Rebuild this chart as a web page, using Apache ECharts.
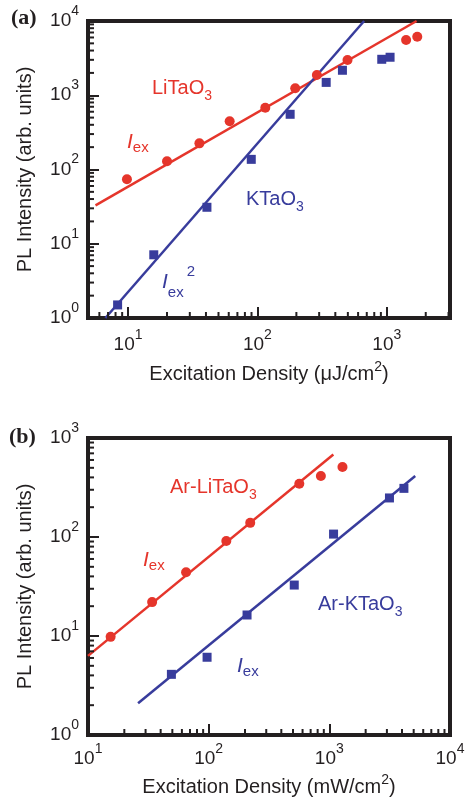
<!DOCTYPE html>
<html>
<head>
<meta charset="utf-8">
<script src="https://cdn.jsdelivr.net/npm/echarts@6/dist/echarts.min.js"></script>
<style>
  html, body { margin: 0; padding: 0; background: #fff; }
  #chart { width: 466px; height: 802px; }
</style>
</head>
<body>
<div id="chart"></div>
<script>
// ---- Panel (a): pulsed excitation (µJ/cm²) ----
const liTaO3A = [[9.8, 74], [20, 129], [35.6, 225], [61, 446], [115, 680], [196, 1240], [288, 1870], [497, 2990], [1410, 5550], [1720, 6150]];
const kTaO3A = [[8.3, 1.5], [15.8, 7.1], [40.7, 31], [89.6, 137], [179, 554], [340, 1490], [454, 2170], [914, 3050], [1060, 3250]];
const liTaO3AFit = [[5.6, 32.9], [1700, 10000]];   // slope 1
const kTaO3AFit = [[6.68, 1], [668, 10000]];        // slope 2

// ---- Panel (b): cw excitation (mW/cm²) ----
const arLiTaO3B = [[15.4, 9.8], [34, 22], [65, 44], [140, 91], [221, 139], [564, 345], [851, 413], [1285, 509]];
const arKTaO3B = [[49.1, 4.1], [97, 6.1], [208, 16.3], [512, 32.7], [1084, 107], [3150, 248], [4150, 310]];
const arLiTaO3BFit = [[10, 6.3], [1080, 680]];
const arKTaO3BFit = [[26, 2.09], [5150, 413]];

// ---- axis ranges ----
const xRangeA = [4.9, 3080];
const yRangeA = [1, 10000];
const xRangeB = [10, 10000];
const yRangeB = [1, 1000];

// ---- minor tick values (2..9 per decade) ----
const xMinorA = [6, 7, 8, 9, 20, 30, 40, 50, 60, 70, 80, 90, 200, 300, 400, 500, 600, 700, 800, 900, 2000, 3000];
const yMinorA = [2, 3, 4, 5, 6, 7, 8, 9, 20, 30, 40, 50, 60, 70, 80, 90, 200, 300, 400, 500, 600, 700, 800, 900, 2000, 3000, 4000, 5000, 6000, 7000, 8000, 9000];
const xMinorB = [20, 30, 40, 50, 60, 70, 80, 90, 200, 300, 400, 500, 600, 700, 800, 900, 2000, 3000, 4000, 5000, 6000, 7000, 8000, 9000];
const yMinorB = [2, 3, 4, 5, 6, 7, 8, 9, 20, 30, 40, 50, 60, 70, 80, 90, 200, 300, 400, 500, 600, 700, 800, 900];

const FONT = '"Liberation Sans", Arial, Helvetica, sans-serif';
const INK = '#231f20';
const RED = '#e5352b';
const BLUE = '#383c9c';

function powLabel(v) {
  const l = Math.log10(v);
  const e = Math.round(l);
  if (Math.abs(l - e) > 1e-6) return '';
  return '{b|10}{p|' + e + '}';
}

const tickRich = {
  b: { fontFamily: FONT, fontSize: 19, lineHeight: 34, color: INK },
  p: { fontFamily: FONT, fontSize: 14, lineHeight: 14, verticalAlign: 'top', color: INK }
};

function nameStyle() {
  return {
    fontFamily: FONT, fontSize: 20, lineHeight: 28, color: INK,
    rich: { p: { fontFamily: FONT, fontSize: 14, lineHeight: 12, verticalAlign: 'top', color: INK } }
  };
}

function logAxis(gridIndex, range, extra) {
  return Object.assign({
    type: 'log', logBase: 10, gridIndex: gridIndex, min: range[0], max: range[1],
    axisLine: { show: true, onZero: false, lineStyle: { color: INK, width: 4 } },
    axisTick: { show: true, inside: true, length: 11, interval: 0, lineStyle: { color: INK, width: 2 } },
    minorTick: { show: false },
    splitLine: { show: false },
    axisLabel: { show: true, interval: 0, formatter: powLabel, rich: tickRich, showMinLabel: true, showMaxLabel: true },
    nameLocation: 'middle',
    nameTextStyle: nameStyle()
  }, extra);
}

function minorTicks(dim, idx, values, fixed) {
  return {
    type: 'custom', xAxisIndex: idx, yAxisIndex: idx, silent: true, clip: false, z: 4,
    data: values.map(v => dim === 'x' ? [v, fixed] : [fixed, v]),
    renderItem: function (params, api) {
      const p = api.coord([api.value(0), api.value(1)]);
      const len = 6;
      const shape = dim === 'x'
        ? { x1: p[0], y1: p[1], x2: p[0], y2: p[1] - len }
        : { x1: p[0], y1: p[1], x2: p[0] + len, y2: p[1] };
      return { type: 'line', shape: shape, style: { stroke: INK, lineWidth: 2 } };
    }
  };
}

function fitLine(idx, data, color) {
  return {
    type: 'line', xAxisIndex: idx, yAxisIndex: idx, data: data, showSymbol: false, silent: true,
    lineStyle: { color: color, width: 2.5 }, z: 2
  };
}

function points(idx, data, color, symbol, size) {
  return {
    type: 'scatter', xAxisIndex: idx, yAxisIndex: idx, data: data, symbol: symbol, symbolSize: size,
    itemStyle: { color: color, opacity: 1 }, z: 3
  };
}

const subRich = (color) => ({
  m: { fontFamily: FONT, fontSize: 20, lineHeight: 30, color: color },
  s: { fontFamily: FONT, fontSize: 14, lineHeight: 14, verticalAlign: 'bottom', color: color },
  I: { fontFamily: FONT, fontSize: 21, fontStyle: 'italic', lineHeight: 26, color: color },
  e: { fontFamily: FONT, fontSize: 15, lineHeight: 15, verticalAlign: 'bottom', color: color }
});

function label(x, y, text, color) {
  return {
    type: 'text', x: x, y: y, silent: true, z: 10,
    style: { text: text, rich: subRich(color), align: 'left', verticalAlign: 'middle', fill: color }
  };
}

const chart = echarts.init(document.getElementById('chart'), null, { renderer: 'canvas' });

chart.setOption({
  backgroundColor: '#fff',
  animation: false,
  grid: [
    { left: 88, top: 21, width: 362, height: 297, show: true, borderColor: INK, borderWidth: 4, outerBoundsMode: 'none', containLabel: false },
    { left: 88, top: 438, width: 362, height: 297, show: true, borderColor: INK, borderWidth: 4, outerBoundsMode: 'none', containLabel: false }
  ],
  xAxis: [
    logAxis(0, xRangeA, { name: 'Excitation Density (μJ/cm{p|2})', nameGap: 42, axisLabel: { show: true, interval: 0, margin: 10, formatter: powLabel, rich: tickRich } }),
    logAxis(1, xRangeB, { name: 'Excitation Density (mW/cm{p|2})', nameGap: 38, axisLabel: { show: true, interval: 0, margin: 7, formatter: powLabel, rich: tickRich } })
  ],
  yAxis: [
    logAxis(0, yRangeA, { name: 'PL Intensity (arb. units)', nameGap: 47, axisLabel: { show: true, interval: 0, margin: 9, formatter: powLabel, rich: tickRich } }),
    logAxis(1, yRangeB, { name: 'PL Intensity (arb. units)', nameGap: 47, axisLabel: { show: true, interval: 0, margin: 9, formatter: powLabel, rich: tickRich } })
  ],
  series: [
    minorTicks('x', 0, xMinorA, yRangeA[0]),
    minorTicks('y', 0, yMinorA, xRangeA[0]),
    minorTicks('x', 1, xMinorB, yRangeB[0]),
    minorTicks('y', 1, yMinorB, xRangeB[0]),
    fitLine(0, liTaO3AFit, RED),
    points(0, liTaO3A, RED, 'circle', 10),
    fitLine(0, kTaO3AFit, BLUE),
    points(0, kTaO3A, BLUE, 'rect', 9),
    fitLine(1, arLiTaO3BFit, RED),
    points(1, arLiTaO3B, RED, 'circle', 10),
    fitLine(1, arKTaO3BFit, BLUE),
    points(1, arKTaO3B, BLUE, 'rect', 9)
  ],
  graphic: [
    { type: 'text', x: 11, y: 18, silent: true, style: { text: '(a)', font: 'bold 22px "Liberation Serif", "Times New Roman", serif', fill: INK, align: 'left', verticalAlign: 'middle' } },
    { type: 'text', x: 9, y: 437, silent: true, style: { text: '(b)', font: 'bold 22px "Liberation Serif", "Times New Roman", serif', fill: INK, align: 'left', verticalAlign: 'middle' } },
    label(152, 88, '{m|LiTaO}{s|3}', RED),
    label(127, 142, '{I|I}{e|ex}', RED),
    label(246, 199, '{m|KTaO}{s|3}', BLUE),
    {
      type: 'text', x: 162, y: 282, silent: true, z: 10,
      style: {
        text: '{I|I}{e|ex}{p|2}', align: 'left', verticalAlign: 'middle', fill: BLUE,
        rich: {
          I: { fontFamily: FONT, fontSize: 21, fontStyle: 'italic', lineHeight: 36, color: BLUE },
          e: { fontFamily: FONT, fontSize: 15, lineHeight: 26, verticalAlign: 'bottom', color: BLUE },
          p: { fontFamily: FONT, fontSize: 15, lineHeight: 15, verticalAlign: 'top', color: BLUE, padding: [0, 0, 0, 3] }
        }
      }
    },
    label(170, 487, '{m|Ar-LiTaO}{s|3}', RED),
    label(143, 560, '{I|I}{e|ex}', RED),
    label(318, 604, '{m|Ar-KTaO}{s|3}', BLUE),
    label(237, 666, '{I|I}{e|ex}', BLUE)
  ]
});
</script>
</body>
</html>
